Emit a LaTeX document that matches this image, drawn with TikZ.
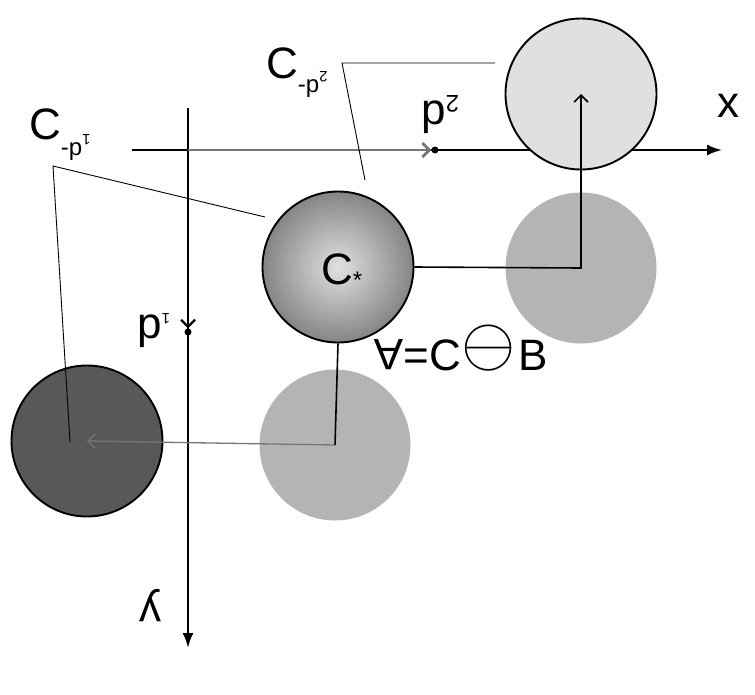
\documentclass[tikz,border=0pt]{standalone}
\usepackage{fontspec}
\setmainfont{Liberation Sans}
\usetikzlibrary{arrows.meta,positioning}
\definecolor{lightdisk}{HTML}{E0E0E0}
\definecolor{middisk}{HTML}{B4B4B4}
\definecolor{darkdisk}{HTML}{585858}
\definecolor{shift}{HTML}{767676}
\tikzset{
  disk/.style={circle,minimum size=151pt,inner sep=0pt},
  rim/.style={draw,line width=1.9pt},
  axis/.style={-{Latex[length=15pt,width=11pt]},line width=2.2pt},
  leader/.style={line width=0.9pt},
  move/.style={-{Straight Barb[length=7pt,width=14pt]},line width=1.6pt},
  greymove/.style={move,draw=shift},
  dot/.style={circle,fill,minimum size=7pt,inner sep=0pt},
  big/.style={font=\fontsize{44}{44}\selectfont,inner sep=0pt}
}
\newcommand{\flip}[1]{\rotatebox[origin=c]{180}{#1}}
\newcommand{\midsize}{\fontsize{24}{24}\selectfont}
\newcommand{\tinysize}{\fontsize{15}{15}\selectfont}

\begin{document}
\begin{tikzpicture}[x=1pt,y=-1pt]
  \useasboundingbox (0,0) rectangle (755,694);

  % axes
  \coordinate (origin) at (188,150);
  \coordinate (xstart) at (132,150);
  \coordinate (xend) at (722,150);
  \coordinate (ystart) at (188,108);
  \coordinate (yend) at (188,648);
  \draw[axis] (xstart) -- (xend);
  \draw[axis] (ystart) -- (yend);
  \node[big,anchor=center] (xlabel) at (728,106) {x};
  \node[big,anchor=center] (ylabel) at (150,606) {\flip{y}};

  % disks
  \node[disk,rim,fill=lightdisk] (ctop) at (581,94) {};
  \node[disk,fill=middisk] (cright) at (581,268) {};
  \node[disk,fill=middisk] (cbottom) at (335,445) {};
  \node[disk,rim,fill=darkdisk] (cdark) at (87,441) {};
  \node[disk,rim,shading=radial,inner color=black!12,outer color=black!48] (cstar) at (338,267) {};
  \node[big,anchor=base west] (cstarlabel) at (321,284) {C\raisebox{-4pt}{\midsize*}};

  % points on the axes
  \node[dot] (p1) at (188,332) {};
  \node[dot] (p2) at (435,150) {};
  \draw[move,line width=2.2pt] (origin) -- (p1.north);
  \draw[greymove,line width=2.8pt] (origin) -- (p2.west);
  \node[big,anchor=base west] (p1label) at (137,338) {p\raisebox{14pt}{\tinysize\flip{1}}};
  \node[big,anchor=base west] (p2label) at (421,124) {p\raisebox{12pt}{\midsize\flip{2}}};

  % shifts of the disk
  \draw[move] (cstar.east) -- (cright.center) -- (ctop.center);
  \draw[line width=1.6pt] (cstar.south) -- (cbottom.center);
  \draw[greymove,line width=1.3pt] (cbottom.center) -- (cdark.center);

  % leaders
  \coordinate (bend1) at (53,166);
  \coordinate (end1) at (265,217);
  \coordinate (pin1) at (70,442);
  \draw[leader] (end1) -- (bend1) -- (pin1);
  \coordinate (bend2) at (342,63);
  \coordinate (end2) at (495,63);
  \coordinate (pin2) at (365,180);
  \draw[leader] (end2) -- (bend2) -- (pin2);
  \node[big,anchor=base west] (cp1label) at (29,139) {C\raisebox{-16pt}{\midsize-p\raisebox{10pt}{\tinysize\flip{1}}}};
  \node[big,anchor=base west] (cp2label) at (266,78) {C\raisebox{-14pt}{\midsize-p\raisebox{10pt}{\tinysize\flip{2}}}};

  % formula
  \node[big,anchor=base west] (formula) at (374,370) {\flip{A}=C\raisebox{5pt}{\scalebox{2.8}{$\ominus$}}\hspace{3pt}B};
\end{tikzpicture}
\end{document}
